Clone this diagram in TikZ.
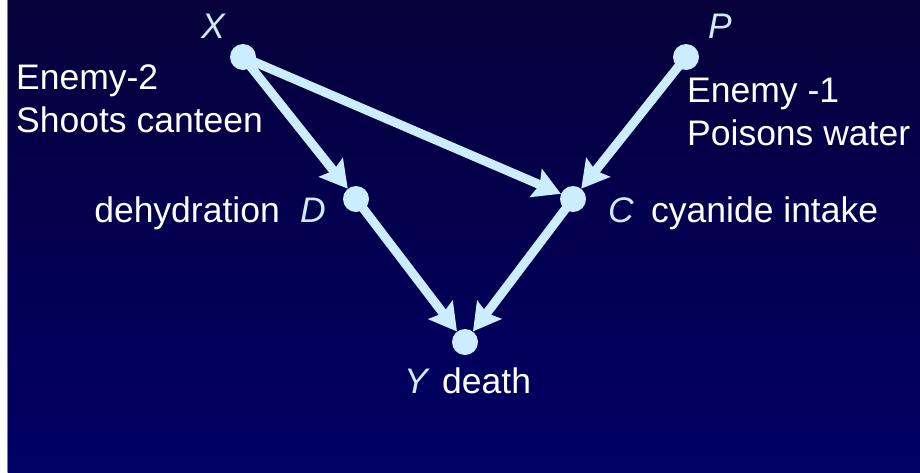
\documentclass[tikz,border=0pt]{standalone}
\usepackage{fontspec}
\setmainfont{Liberation Sans}
\usetikzlibrary{arrows.meta,positioning}
\definecolor{dotblue}{RGB}{204,236,255}
\definecolor{bgtop}{RGB}{6,0,58}
\definecolor{bgmid}{RGB}{0,0,96}
\definecolor{bgbot}{RGB}{0,0,102}

\begin{document}
\begin{tikzpicture}[x=1pt,y=-1pt,
 dot/.style={circle,fill=dotblue,minimum size=26pt,inner sep=0pt},
 var/.style={text=dotblue,font=\fontsize{35.5}{43}\selectfont\itshape,inner sep=0pt,anchor=base},
 txt/.style={text=white,font=\fontsize{35.5}{43}\selectfont,inner sep=0pt,align=left},
 cause/.style={draw=dotblue,line width=9pt,shorten <=-2pt,-{Stealth[length=27pt,width=30pt,inset=4pt]}}]
\useasboundingbox (0,0) rectangle (920,472);
% background
\fill[white] (0,0) rectangle (7,472);
\shade[top color=bgtop,middle color=bgmid,bottom color=bgbot] (7.5,0) rectangle (920,472);
\draw[gray,line width=0.8pt] (7.5,0) -- (7.5,472);
% variables
\node[dot] (X) at (243,57) {};
\node[dot] (P) at (686,57) {};
\node[dot] (D) at (356,199) {};
\node[dot] (C) at (573,199) {};
\node[dot] (Y) at (465,342) {};
% causal arrows
\draw[cause] (X) -- (D);
\draw[cause] (X) -- (C);
\draw[cause] (P) -- (C);
\draw[cause] (D) -- (Y);
\draw[cause] (C) -- (Y);
% labels
\node[var] (Xl) at (213,38) {X};
\node[var] (Pl) at (720,38) {P};
\node[var] (Dl) at (313,222) {D};
\node[var] (Cl) at (621,222) {C};
\node[var] (Yl) at (416,393) {Y};
\node[txt,anchor=base east] (dehyd) at (280,222) {dehydration};
\node[txt,anchor=base west] (cyan) at (651,222) {cyanide intake};
\node[txt,anchor=base west] (death) at (442,393) {death};
\node[txt,anchor=base west] (enemy2) at (16,132) {Enemy-2\\Shoots canteen};
\node[txt,anchor=base west] (enemy1) at (687,145) {Enemy -1\\Poisons water};
\end{tikzpicture}
\end{document}
